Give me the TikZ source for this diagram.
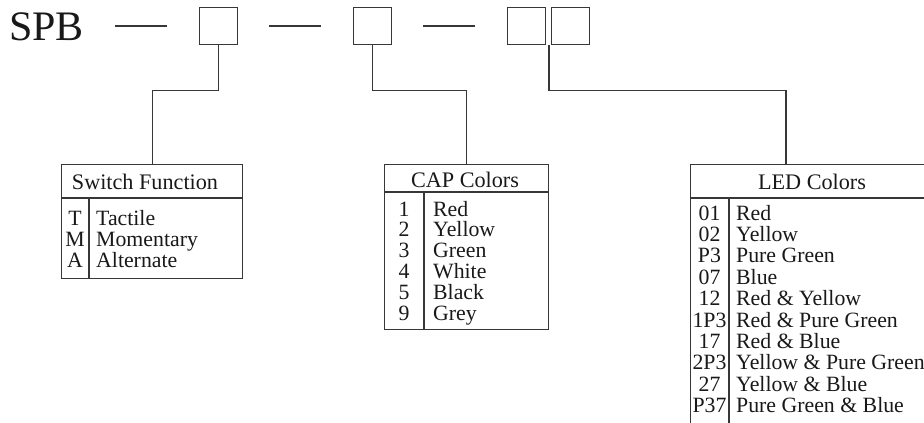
\documentclass[tikz,border=0pt]{standalone}
\usepackage{fontspec}
\setmainfont{Liberation Serif}
\definecolor{linec}{RGB}{55,55,55}
\definecolor{txtc}{RGB}{25,25,25}
\begin{document}
\begin{tikzpicture}[x=1pt,y=-1pt,
  ln/.style={draw=linec, line width=1.1pt},
  slot/.style={ln, minimum width=38pt, minimum height=37pt, inner sep=0pt, anchor=north west},
  tbl/.style={ln, inner sep=0pt, anchor=north west},
  txt/.style={font=\fontsize{21.8}{21.8}\selectfont, text=txtc, inner sep=0pt},
  hdr/.style={txt, font=\fontsize{22.2}{22.2}\selectfont, anchor=base},
  code/.style={txt, anchor=base},
  item/.style={txt, anchor=base west}]
\clip (0,0) rectangle (924,423);
\fill[white] (0,0) rectangle (924,423);
% part number
\node[text=txtc, font=\fontsize{42}{42}\selectfont, inner sep=0pt, anchor=base west] (spb) at (9,40) {SPB};
\node[slot] (b1) at (199,7) {};
\node[slot] (b2) at (353,7) {};
\node[slot] (b3a) at (507,7) {};
\node[slot] (b3b) at (551,7) {};
\coordinate (d1a) at (115,26); \coordinate (d1b) at (167,26);
\coordinate (d2a) at (269,26); \coordinate (d2b) at (321,26);
\coordinate (d3a) at (423,26); \coordinate (d3b) at (475,26);
\draw[ln] (d1a) -- (d1b);
\draw[ln] (d2a) -- (d2b);
\draw[ln] (d3a) -- (d3b);
% tables
\node[tbl, minimum width=181pt, minimum height=114pt] (sw) at (61,164) {};
\draw[ln] (61,198) -- (242,198);
\draw[ln] (89,198) -- (89,278);
\node[tbl, minimum width=164pt, minimum height=165pt] (cap) at (384,164) {};
\draw[ln] (384,192) -- (548,192);
\draw[ln] (424,192) -- (424,329);
\node[tbl, minimum width=244pt, minimum height=280pt] (led) at (690,164) {};
\draw[ln] (690,198) -- (934,198);
\draw[ln] (729,198) -- (729,444);
\coordinate (ledtop) at (786,164);
% connectors
\draw[ln] (b1.south) -- ++(0,45) -| (sw.north);
\draw[ln] (b2.south) -- ++(0,45) -| (cap.north);
\draw[ln] ([xshift=-2pt]b3b.south west) -- ++(0,45) -| (ledtop);
% headers
\node[hdr] (swh) at (145,189.5) {Switch Function};
\node[hdr] (caph) at (465,187) {CAP Colors};
\node[hdr] (ledh) at (812,189.5) {LED Colors};
% rows
\foreach \c/\t [count=\i from 0] in {T/Tactile, M/Momentary, A/Alternate} {
  \node[code] (swc\i) at (75,{225+21*\i}) {\c};
  \node[item] (swi\i) at (96,{225+21*\i}) {\t};
}
\foreach \c/\t [count=\i from 0] in {1/Red, 2/Yellow, 3/Green, 4/White, 5/Black, 9/Grey} {
  \node[code] (capc\i) at (404,{216+20.8*\i}) {\c};
  \node[item] (capi\i) at (433,{216+20.8*\i}) {\t};
}
\foreach \c/\t [count=\i from 0] in {01/Red, 02/Yellow, P3/Pure Green, 07/Blue, 12/Red \& Yellow, 1P3/Red \& Pure Green, 17/Red \& Blue, 2P3/Yellow \& Pure Green, 27/Yellow \& Blue, P37/Pure Green \& Blue} {
  \node[code] (ledc\i) at (709.5,{220+21.4*\i}) {\c};
  \node[item] (ledi\i) at (736,{220+21.4*\i}) {\t};
}
\end{tikzpicture}
\end{document}
